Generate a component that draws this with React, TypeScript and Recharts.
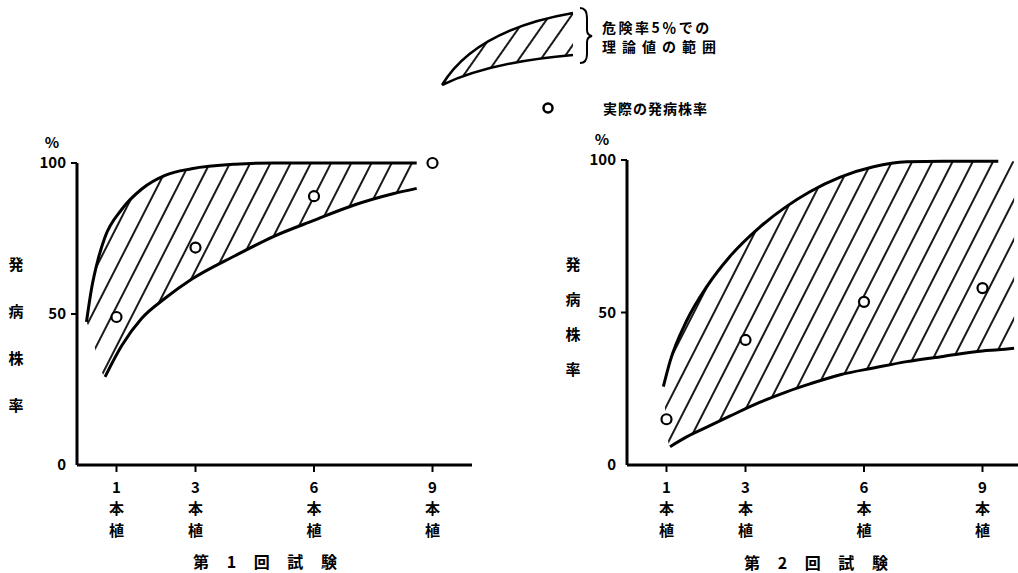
import React from "react"
import { ComposedChart, Area, Line, Scatter, XAxis, YAxis } from "recharts"

const FONT = "'Noto Sans CJK JP', 'Noto Sans', sans-serif"

const plantCounts = [1, 3, 6, 9]
const rateTicks = [0, 50, 100]

// 第1回試験
const trial1Observed = [49, 72, 89, 100]
const trial1X = [0.24, 0.37, 0.54, 0.71, 1.13, 1.64, 2.23, 2.9, 4, 5, 6, 7, 8, 8.6]
const trial1Upper = [47.4, 58.5, 68.4, 75.5, 84.6, 91.4, 95.9, 98.1, 99.6, 100, 100, 100, 100, 100]
const trial1Lower = [null, null, null, 29.2, 39.5, 48.6, 55.2, 61.5, 69.3, 75.8, 81, 86, 89.8, 91.6]
const trial1HatchEdge = [47.4, 43, 34.5]

// 第2回試験
const trial2Observed = [15, 41, 53.5, 58]
const trial2X = [0.92, 1.09, 1.51, 2.02, 2.6, 3.37, 4.04, 4.63, 5.4, 6.24, 7.08, 8, 9, 9.4, 9.8]
const trial2Upper = [25.7, 34, 47.3, 58.5, 68.3, 78.1, 84.8, 89.6, 94.4, 97.8, 99.4, 99.6, 99.6, 99.6, 99.6]
const trial2Lower = [null, 6, 9.2, 12.4, 16, 20.6, 24, 26.6, 29.6, 31.8, 33.9, 35.6, 37.4, 37.8, 38.3]
const trial2HatchEdge = [25.7]
const trial2UpperEnd = 9.4

function buildSeries(
  xs: number[],
  upper: number[],
  lower: (number | null)[],
  edge: number[],
  upperEnd = Infinity
) {
  return {
    upperLine: xs.map((x, i) => ({ x, y: upper[i] })).filter((d) => d.x <= upperEnd),
    lowerLine: xs
      .map((x, i) => ({ x, y: lower[i] }))
      .filter((d) => d.y !== null),
    band: xs.map((x, i) => ({ x, band: [lower[i] ?? edge[i], upper[i]] })),
  }
}

const points = (values: number[]) => plantCounts.map((x, i) => ({ x, y: values[i] }))

const textStyle = { fontFamily: FONT, fontWeight: 700, fill: "#000" }

const XTick = (props: any) => {
  const { x, y, payload } = props
  return (
    <g style={textStyle as any} fontSize={15} textAnchor="middle">
      <text x={x} y={y + 19}>{payload.value}</text>
      <text x={x} y={y + 40}>本</text>
      <text x={x} y={y + 62}>植</text>
    </g>
  )
}

const YTick = (props: any) => {
  const { x, y, payload } = props
  return (
    <g>
      {payload.value !== 0 && (
        <line x1={x + 5} x2={x + 11} y1={y} y2={y} stroke="#000" strokeWidth={2} />
      )}
      <text x={x} y={y} dy="0.35em" textAnchor="end" fontSize={15} style={textStyle as any}>
        {payload.value}
      </text>
    </g>
  )
}

const Circle = (props: any) => (
  <circle cx={props.cx} cy={props.cy} r={5} fill="#fff" stroke="#000" strokeWidth={2.2} />
)

function TrialPanel({ id, left, margin, series, observed, yTitle, title }: any) {
  const axisLine = { stroke: "#000", strokeWidth: 3 }
  return (
    <div style={{ position: "absolute", left, top: 0 }}>
      <ComposedChart width={500} height={573} margin={margin}>
        <defs>
          <pattern
            id={id}
            patternUnits="userSpaceOnUse"
            width={18}
            height={18}
            patternTransform="rotate(27)"
          >
            <line x1={9} y1={0} x2={9} y2={18} stroke="#000" strokeWidth={1.8} />
          </pattern>
        </defs>
        <XAxis
          type="number"
          dataKey="x"
          domain={[0, 10]}
          ticks={plantCounts}
          interval={0}
          allowDataOverflow
          height={105}
          axisLine={axisLine}
          tickLine={{ stroke: "#000", strokeWidth: 2 }}
          tickSize={7}
          tick={<XTick />}
          label={{
            position: "insideBottom",
            content: (p: any) => {
              const vb = p.viewBox || { x: 0, y: 0, width: 0 }
              return (
                <text
                  x={vb.x + vb.width / 2 + title.dx}
                  y={vb.y + title.dy}
                  textAnchor="middle"
                  dominantBaseline="central"
                  fontSize={16}
                  wordSpacing={14}
                  style={textStyle as any}
                >
                  {title.text}
                </text>
              )
            },
          }}
        />
        <YAxis
          type="number"
          domain={[0, 100]}
          ticks={rateTicks}
          interval={0}
          width={40}
          axisLine={axisLine}
          tickLine={false}
          tickSize={6}
          tickMargin={5}
          tick={<YTick />}
          label={{
            position: "left",
            content: (p: any) => {
              const vb = p.viewBox || { x: 0, y: 0, width: 0 }
              const axisX = vb.x + vb.width
              return (
                <g style={textStyle as any} textAnchor="middle" dominantBaseline="central">
                  <text x={axisX - 25} y={vb.y - 22} fontSize={15}>%</text>
                  {"発病株率".split("").map((ch, i) => (
                    <text key={ch} x={axisX + yTitle.dx} y={vb.y + yTitle.start + i * yTitle.step} fontSize={15}>
                      {ch}
                    </text>
                  ))}
                </g>
              )
            },
          }}
        />
        <Area
          data={series.band}
          dataKey="band"
          type="monotone"
          stroke="none"
          fill={`url(#${id})`}
          fillOpacity={1}
          isAnimationActive={false}
        />
        <Line data={series.upperLine} dataKey="y" type="monotone" stroke="#000" strokeWidth={3} dot={false} isAnimationActive={false} />
        <Line data={series.lowerLine} dataKey="y" type="monotone" stroke="#000" strokeWidth={3} dot={false} isAnimationActive={false} />
        <Scatter data={observed} dataKey="y" shape={Circle} isAnimationActive={false} />
      </ComposedChart>
    </div>
  )
}

function KeyBox() {
  return (
    <svg width={1018} height={130} style={{ position: "absolute", left: 0, top: 0 }}>
      <defs>
        <pattern id="hatchKey" patternUnits="userSpaceOnUse" width={18} height={18} patternTransform="rotate(35)">
          <line x1={9} y1={0} x2={9} y2={18} stroke="#000" strokeWidth={1.8} />
        </pattern>
      </defs>
      <path d="M442,85 Q475,30 573,13 L573,55 Q490,62 442,85 Z" fill="url(#hatchKey)" stroke="none" />
      <path d="M442,85 Q475,30 573,13 M442,85 Q490,62 573,55" fill="none" stroke="#000" strokeWidth={2.5} />
      <path
        d="M580,8 Q587,8 587,18 L587,30 Q587,35 592,36 Q587,37 587,42 L587,54 Q587,63 580,63"
        fill="none"
        stroke="#000"
        strokeWidth={2}
      />
      <g style={textStyle as any} dominantBaseline="central">
        <text x={602} y={27} fontSize={14} letterSpacing={2.5}>危険率5％での</text>
        <text x={602} y={46} fontSize={14} letterSpacing={6}>理論値の範囲</text>
        <text x={603} y={108} fontSize={14} letterSpacing={1}>実際の発病株率</text>
      </g>
      <circle cx={548} cy={108} r={4.5} fill="#fff" stroke="#000" strokeWidth={2.5} />
    </svg>
  )
}

export default function App() {
  const s1 = buildSeries(trial1X, trial1Upper, trial1Lower, trial1HatchEdge)
  const s2 = buildSeries(trial2X, trial2Upper, trial2Lower, trial2HatchEdge, trial2UpperEnd)
  return (
    <div
      style={{
        position: "absolute",
        left: 0,
        top: 0,
        width: 1018,
        height: 573,
        overflow: "hidden",
        background: "#fff",
      }}
    >
      <TrialPanel
        id="hatch1"
        left={0}
        margin={{ top: 163, right: 28, bottom: 3, left: 37 }}
        series={s1}
        observed={points(trial1Observed)}
        yTitle={{ dx: -61, start: 100, step: 47 }}
        title={{ text: "第 1 回 試 験", dx: -9.5, dy: 96 }}
      />
      <TrialPanel
        id="hatch2"
        left={540}
        margin={{ top: 160, right: 18, bottom: 3, left: 47 }}
        series={s2}
        observed={points(trial2Observed)}
        yTitle={{ dx: -54, start: 103, step: 35 }}
        title={{ text: "第 2 回 試 験", dx: -8.5, dy: 97 }}
      />
      <KeyBox />
    </div>
  )
}
